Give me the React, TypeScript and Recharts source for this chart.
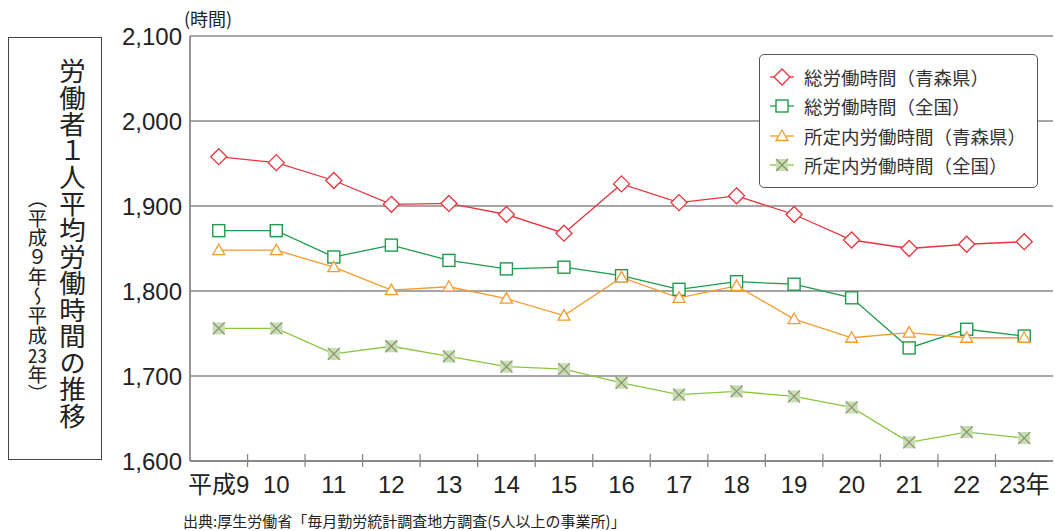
import React from 'react';
import { LineChart, Line, XAxis, YAxis, CartesianGrid } from 'recharts';

const years = ['平成9', '10', '11', '12', '13', '14', '15', '16', '17', '18', '19', '20', '21', '22', '23年'];
const totalAomori = [1958, 1951, 1930, 1902, 1903, 1890, 1868, 1926, 1904, 1912, 1890, 1860, 1850, 1855, 1858];
const totalNational = [1871, 1871, 1840, 1854, 1836, 1826, 1828, 1818, 1802, 1811, 1808, 1792, 1733, 1755, 1747];
const schedAomori = [1848, 1848, 1828, 1801, 1805, 1791, 1771, 1816, 1792, 1806, 1767, 1745, 1751, 1745, 1745];
const schedNational = [1756, 1756, 1726, 1735, 1723, 1711, 1708, 1692, 1678, 1682, 1676, 1663, 1622, 1634, 1627];
const yTicks = [1600, 1700, 1800, 1900, 2000, 2100];

const seriesNames = ['総労働時間（青森県）', '総労働時間（全国）', '所定内労働時間（青森県）', '所定内労働時間（全国）'];
const seriesKeys = ['ta', 'tn', 'sa', 'sn'];

const data = years.map((y, i) => ({
  year: y,
  ta: totalAomori[i],
  tn: totalNational[i],
  sa: schedAomori[i],
  sn: schedNational[i],
}));

const W = 1055;
const H = 531;
const M = { top: 36, right: 2, left: 130, bottom: 40 };
const Y_W = 60;
const X_H = 30;
const PLOT_L = M.left + Y_W;
const PLOT_W = W - PLOT_L - M.right;
const BAND = PLOT_W / years.length;

const RED = '#e8343c';
const GREEN = '#1f9a4c';
const ORANGE = '#f59a2c';
const LGREEN = '#8cc63f';
const XFILL = '#c3dfb4';
const XSTROKE = '#958a6c';

const NUM_FONT = '"Liberation Sans", "Noto Sans CJK JP", sans-serif';
const JP_FONT = '"Noto Sans CJK JP", sans-serif';

function markerShape(kind: string, cx: number, cy: number, key?: any) {
  if (kind === 'ta') {
    const r = 8;
    return (
      <polygon key={key} points={`${cx},${cy - r} ${cx + r},${cy} ${cx},${cy + r} ${cx - r},${cy}`} fill="#fff" stroke={RED} strokeWidth={1.3} />
    );
  }
  if (kind === 'tn') {
    const r = 6;
    return <rect key={key} x={cx - r} y={cy - r} width={2 * r} height={2 * r} fill="#fff" stroke={GREEN} strokeWidth={1.4} />;
  }
  if (kind === 'sa') {
    return (
      <polygon key={key} points={`${cx},${cy - 6} ${cx + 6},${cy + 4.5} ${cx - 6},${cy + 4.5}`} fill="#fff" stroke={ORANGE} strokeWidth={1.3} />
    );
  }
  const r = 6;
  return (
    <g key={key}>
      <rect x={cx - r} y={cy - r} width={2 * r} height={2 * r} fill={XFILL} />
      <line x1={cx - r} y1={cy - r} x2={cx + r} y2={cy + r} stroke={XSTROKE} strokeWidth={1.2} />
      <line x1={cx - r} y1={cy + r} x2={cx + r} y2={cy - r} stroke={XSTROKE} strokeWidth={1.2} />
    </g>
  );
}

const makeDot = (kind: string) => (props: any) => {
  const { cx, cy, index } = props;
  if (cx == null || cy == null) return <g key={`${kind}-${index}`} />;
  return markerShape(kind, cx, cy, `${kind}-${index}`);
};

const XTick = (props: any) => {
  const { x, y, payload, index } = props;
  return (
    <g>
      {index > 0 && (
        <line x1={x - BAND / 2} x2={x - BAND / 2} y1={y - 7} y2={y + 6} stroke="#888" strokeWidth={1.3} />
      )}
      <text x={x} y={y + 32} textAnchor="middle" fontFamily={NUM_FONT} fontSize={24} fill="#222">
        {payload.value}
      </text>
    </g>
  );
};

const colors = [RED, GREEN, ORANGE, LGREEN];

const LegendBox = () => (
  <div
    style={{
      position: 'absolute',
      left: 759,
      top: 54,
      width: 279,
      height: 134,
      boxSizing: 'border-box',
      border: '1.3px solid #555',
      borderRadius: 5,
      background: '#fff',
    }}
  >
    {seriesNames.map((n, i) => (
      <div key={n} style={{ position: 'absolute', left: 0, top: 22 + i * 29.3 - 14, height: 28, display: 'flex', alignItems: 'center' }}>
        <svg width={44} height={28} style={{ display: 'block' }}>
          <line x1={10} x2={34} y1={14} y2={14} stroke={colors[i]} strokeWidth={1.3} />
          {markerShape(seriesKeys[i], 22, 14)}
        </svg>
        <span style={{ fontFamily: JP_FONT, fontSize: 18.5, color: '#333', whiteSpace: 'nowrap' }}>{n}</span>
      </div>
    ))}
  </div>
);

export default function App() {
  return (
    <div style={{ position: 'absolute', left: 0, top: 0, width: W, height: H, background: '#fff' }}>
      <div
        style={{
          position: 'absolute',
          left: 8,
          top: 37,
          width: 94,
          height: 423,
          boxSizing: 'border-box',
          border: '1.3px solid #444',
        }}
      />
      <div
        style={{
          position: 'absolute',
          left: 59,
          top: 58,
          writingMode: 'vertical-rl',
          fontFamily: JP_FONT,
          fontSize: 26.5,
          lineHeight: '26px',
          color: '#222',
          whiteSpace: 'nowrap',
        }}
      >
        労働者１人平均労働時間の推移
      </div>
      <div
        style={{
          position: 'absolute',
          left: 27,
          top: 189,
          writingMode: 'vertical-rl',
          fontFamily: JP_FONT,
          fontSize: 19.5,
          lineHeight: '20px',
          color: '#222',
          whiteSpace: 'nowrap',
        }}
      >
        （平成９年～平成<span style={{ textCombineUpright: 'all' } as any}>23</span>年）
      </div>
      <div
        style={{
          position: 'absolute',
          left: 184,
          top: 6,
          fontFamily: JP_FONT,
          fontSize: 18,
          lineHeight: '24px',
          color: '#222',
          whiteSpace: 'nowrap',
        }}
      >
        (時間)
      </div>
      <div style={{ position: 'absolute', left: 0, top: 0 }}>
        <LineChart width={W} height={H} data={data} margin={M}>
          <CartesianGrid vertical={false} stroke="#888" strokeWidth={1.3} />
          <XAxis
            dataKey="year"
            height={X_H}
            tickLine={false}
            tickSize={0}
            tickMargin={0}
            interval={0}
            padding={{ left: BAND / 2, right: BAND / 2 }}
            stroke="#888"
            strokeWidth={1.8}
            tick={<XTick />}
          />
          <YAxis
            width={Y_W}
            domain={[1600, 2100]}
            ticks={yTicks}
            tickLine={false}
            tickSize={0}
            tickMargin={8}
            interval={0}
            stroke="#888"
            strokeWidth={1.8}
            tickFormatter={(v: number) => v.toLocaleString('en-US')}
            tick={{ fontFamily: NUM_FONT, fontSize: 24, fill: '#222' }}
          />
          <Line type="linear" dataKey="ta" name={seriesNames[0]} stroke={RED} strokeWidth={1.3} dot={makeDot('ta')} isAnimationActive={false} />
          <Line type="linear" dataKey="tn" name={seriesNames[1]} stroke={GREEN} strokeWidth={1.3} dot={makeDot('tn')} isAnimationActive={false} />
          <Line type="linear" dataKey="sa" name={seriesNames[2]} stroke={ORANGE} strokeWidth={1.3} dot={makeDot('sa')} isAnimationActive={false} />
          <Line type="linear" dataKey="sn" name={seriesNames[3]} stroke={LGREEN} strokeWidth={1.3} dot={makeDot('sn')} isAnimationActive={false} />
        </LineChart>
      </div>
      <LegendBox />
      <div
        style={{
          position: 'absolute',
          left: 183,
          top: 511,
          fontFamily: JP_FONT,
          fontSize: 15,
          lineHeight: '20px',
          color: '#222',
          whiteSpace: 'nowrap',
        }}
      >
        出典:厚生労働省「毎月勤労統計調査地方調査(5人以上の事業所)」
      </div>
    </div>
  );
}
